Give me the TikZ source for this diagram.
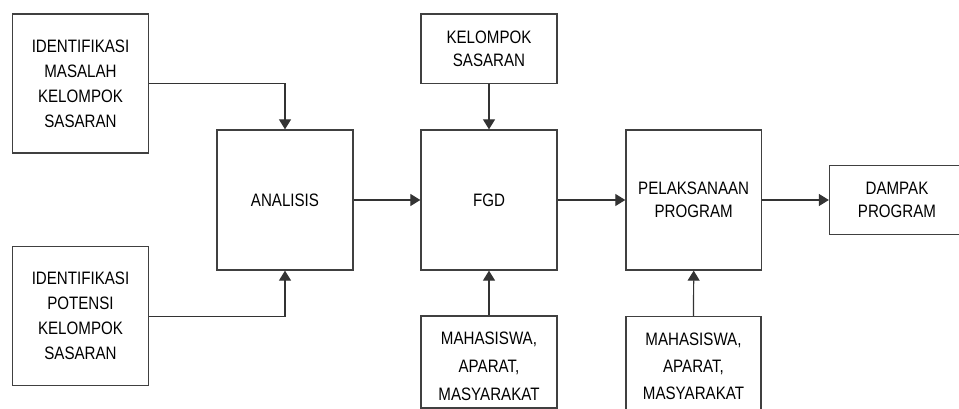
\documentclass[tikz,border=0pt]{standalone}
\usepackage{fontspec}
\setmainfont{Liberation Sans}[FakeStretch=0.84]
\usetikzlibrary{arrows.meta}
\begin{document}
\begin{tikzpicture}[x=1pt,y=-1pt,
  box/.style={draw=black!75, line width=1.3pt, rectangle, inner sep=0pt, align=center,
    font=\fontsize{18}{25}\selectfont},
  txt/.style={inner sep=0pt, align=center, font=\fontsize{18}{28}\selectfont},
  conn/.style={draw=black!80, line width=1.2pt, -{Triangle[length=10pt,width=12pt]}}]
\useasboundingbox (0,0) rectangle (959,409);
\clip (0,0) rectangle (959,409);
\node[box, minimum width=136pt, minimum height=139pt] (id1) at (80.5,83.5) {IDENTIFIKASI\\MASALAH\\KELOMPOK\\SASARAN};
\node[box, minimum width=136pt, minimum height=139pt] (id2) at (80.5,316.2) {IDENTIFIKASI\\POTENSI\\KELOMPOK\\SASARAN};
\node[box, minimum width=136pt, minimum height=140pt] (anal) at (285,200) {ANALISIS};
\node[box, minimum width=136pt, minimum height=140pt] (fgd) at (489,200) {FGD};
\node[box, minimum width=136pt, minimum height=69.3pt, font=\fontsize{18}{23.5}\selectfont] (kel) at (489,48.7) {KELOMPOK\\SASARAN};
\node[box, minimum width=136pt, minimum height=92pt] (mah1) at (489,362) {};
\node[txt] (mah1t) at (489,366) {MAHASISWA,\\APARAT,\\MASYARAKAT};
\node[box, minimum width=135.5pt, minimum height=140pt, font=\fontsize{18}{23.5}\selectfont] (pel) at (693.7,200) {PELAKSANAAN\\PROGRAM};
\node[box, minimum width=135pt, minimum height=94.3pt] (mah2) at (693.5,363.85) {};
\node[txt, font=\fontsize{18}{27}\selectfont] (mah2t) at (693.5,366) {MAHASISWA,\\APARAT,\\MASYARAKAT};
\node[box, minimum width=135pt, minimum height=69.3pt, font=\fontsize{18}{23}\selectfont] (damp) at (897,200) {DAMPAK\\PROGRAM};
\draw[conn] (id1.east) -| (anal.north);
\draw[conn] (id2.east) -| (anal.south);
\draw[conn] (anal.east) -- (fgd.west);
\draw[conn] (kel.south) -- (fgd.north);
\draw[conn] (mah1.north) -- (fgd.south);
\draw[conn] (fgd.east) -- (pel.west);
\draw[conn] (mah2.north) -- (pel.south);
\draw[conn] (pel.east) -- (damp.west);
\end{tikzpicture}
\end{document}
